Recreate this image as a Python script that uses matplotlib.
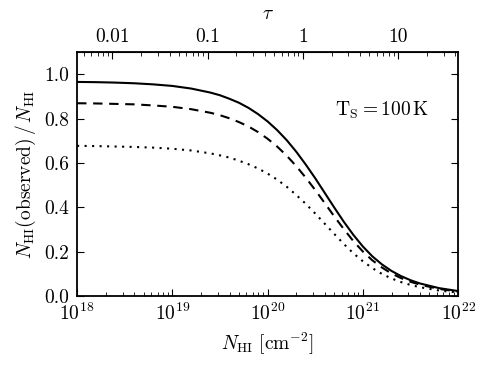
import numpy as np
import matplotlib
matplotlib.use('Agg')
import matplotlib.pyplot as plt

plt.rcParams['font.family'] = 'serif'
plt.rcParams['font.serif'] = ['cmr10', 'DejaVu Serif']
plt.rcParams['mathtext.fontset'] = 'cm'
plt.rcParams['axes.formatter.use_mathtext'] = True
plt.rcParams['font.size'] = 14

# column density (log10 cm^-2)
log_nhi = [18.0, 18.2, 18.4, 18.6, 18.8, 19.0, 19.2, 19.4, 19.5, 19.6, 19.7, 19.8, 19.9,
           20.0, 20.1, 20.2, 20.3, 20.4, 20.5, 20.6, 20.7, 20.8, 20.9, 21.0, 21.1,
           21.2, 21.3, 21.4, 21.5, 21.6, 21.8, 22.0]
frac_solid = [0.965, 0.964, 0.962, 0.959, 0.954, 0.947, 0.935, 0.917, 0.905, 0.889, 0.871,
              0.848, 0.820, 0.787, 0.748, 0.703, 0.651, 0.593, 0.531, 0.465, 0.399, 0.335,
              0.276, 0.2235, 0.179, 0.1429, 0.1136, 0.0902, 0.0717, 0.0569, 0.0359, 0.0227]
frac_dashed = [0.869, 0.868, 0.866, 0.864, 0.859, 0.853, 0.842, 0.826, 0.815, 0.801, 0.784,
               0.764, 0.739, 0.709, 0.674, 0.633, 0.586, 0.534, 0.478, 0.419, 0.359, 0.302,
               0.248, 0.201, 0.161, 0.129, 0.102, 0.0813, 0.0646, 0.0513, 0.0324, 0.0204]
frac_dotted = [0.677, 0.676, 0.674, 0.672, 0.669, 0.664, 0.656, 0.643, 0.634, 0.624, 0.610,
               0.594, 0.575, 0.552, 0.525, 0.493, 0.456, 0.416, 0.372, 0.326, 0.280, 0.235,
               0.193, 0.157, 0.126, 0.100, 0.0796, 0.0633, 0.0503, 0.0399, 0.0252, 0.0159]

# tau = 1 at this column density for Ts = 100 K
n_tau1 = 10 ** 20.37
tau_ticks = [0.01, 0.1, 1, 10]
tau_labels = ['0.01', '0.1', '1', '10']

nhi = 10.0 ** np.array(log_nhi)

fig = plt.figure(figsize=(4.91, 3.66), dpi=100)
ax = fig.add_axes([0.157, 0.191, 0.776, 0.667])

ax.plot(nhi, frac_solid, color='black', lw=1.5, ls='-')
ax.plot(nhi, frac_dashed, color='black', lw=1.5, dashes=(4.5, 3.2))
ax.plot(nhi, frac_dotted, color='black', lw=1.5, dashes=(1.0, 2.6))

ax.set_xscale('log')
ax.set_xlim(1e18, 1e22)
ax.set_ylim(0, 1.1)
ax.set_yticks([0.0, 0.2, 0.4, 0.6, 0.8, 1.0])
ax.set_yticklabels(['0.0', '0.2', '0.4', '0.6', '0.8', '1.0'])

ax.set_xlabel(r'$N_{\rm HI}\ [{\rm cm}^{-2}]$', labelpad=5)
ax.set_ylabel(r'$N_{\rm HI}({\rm observed})\,/\,N_{\rm HI}$', labelpad=4)

ax.tick_params(which='both', direction='in', top=False, right=True)
ax.tick_params(which='major', length=5, width=0.8)
ax.tick_params(which='minor', length=3, width=0.6)
ax.tick_params(axis='y', which='minor', right=False, left=False)
ax.tick_params(axis='y', pad=6)
ax.tick_params(axis='x', pad=5)
for s in ax.spines.values():
    s.set_linewidth(1.3)

secax = ax.secondary_xaxis('top', functions=(lambda n: n / n_tau1, lambda t: t * n_tau1))
secax.set_xticks(tau_ticks, labels=tau_labels)
secax.tick_params(which='both', direction='in', pad=4.5)
secax.tick_params(which='major', length=5, width=0.8)
secax.tick_params(which='minor', length=3, width=0.6)
secax.set_xlabel(r'$\tau$', labelpad=6)

ax.text(0.677, 0.762, r'${\rm T_S} = 100\,{\rm K}$', transform=ax.transAxes,
        ha='left', va='center')

fig.savefig('out.png', dpi=100)
